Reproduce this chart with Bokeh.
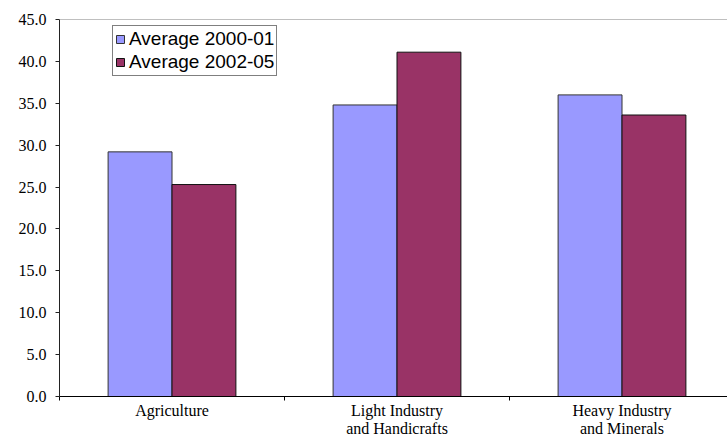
from bokeh.plotting import figure
from bokeh.models import (ColumnDataSource, Range1d, FixedTicker, NumeralTickFormatter,
                          Legend, LegendItem, Span)
from bokeh.embed import file_html
from bokeh.resources import INLINE

# Data
sectors = ["Agriculture", "Light Industry\nand Handicrafts", "Heavy Industry\nand Minerals"]
avg_2000_01 = [29.2, 34.8, 36.0]
avg_2002_05 = [25.3, 41.1, 33.6]
y_ticks = [0, 5, 10, 15, 20, 25, 30, 35, 40, 45]

centers = [i + 0.5 for i in range(len(sectors))]
bar_w = 0.284

src = ColumnDataSource(dict(
    x1=[c - bar_w / 2 for c in centers],
    x2=[c + bar_w / 2 for c in centers],
    a=avg_2000_01,
    b=avg_2002_05,
))

p = figure(width=727, height=440, output_backend="svg", toolbar_location=None,
           x_range=Range1d(0, 668 / 225), y_range=Range1d(0, 45),
           min_border_left=59, min_border_right=0, min_border_top=19, min_border_bottom=43)
p.outline_line_color = None
p.xgrid.visible = False
p.ygrid.visible = False
p.background_fill_color = "white"
p.border_fill_color = "white"

r1 = p.vbar(x="x1", top="a", width=bar_w, source=src,
            fill_color="#9999FF", line_color="#333333", line_width=1)
r2 = p.vbar(x="x2", top="b", width=bar_w, source=src,
            fill_color="#993366", line_color="#111111", line_width=1)

# top boundary line of the plot area
p.add_layout(Span(location=45, dimension="width", line_color="#808080", line_width=1))

# y axis
ya = p.yaxis[0]
ya.ticker = FixedTicker(ticks=y_ticks)
ya.formatter = NumeralTickFormatter(format="0.0")
ya.major_tick_out = 4
ya.major_tick_in = 0
ya.minor_tick_line_color = None
ya.axis_line_color = "#222222"
ya.major_tick_line_color = "#222222"
ya.major_label_text_font = "Liberation Serif"
ya.major_label_text_font_size = "16px"
ya.major_label_text_color = "black"
ya.major_label_standoff = 9

# x axis: labels at category centres, tick marks at category boundaries
xa = p.xaxis[0]
xa.ticker = FixedTicker(ticks=centers, minor_ticks=[0, 1, 2, 3])
xa.major_label_overrides = {c: s for c, s in zip(centers, sectors)}
xa.major_tick_line_color = None
xa.major_tick_out = 0
xa.major_tick_in = 0
xa.minor_tick_out = 4
xa.minor_tick_in = 0
xa.minor_tick_line_color = "black"
xa.axis_line_color = "black"
xa.major_label_text_font = "Liberation Serif"
xa.major_label_text_font_size = "16px"
xa.major_label_text_line_height = 1.1
xa.major_label_text_color = "black"
xa.major_label_standoff = 1

legend = Legend(items=[LegendItem(label="Average 2000-01", renderers=[r1]),
                       LegendItem(label="Average 2002-05", renderers=[r2])],
                location=(53, 320))
legend.label_text_font = "Liberation Sans"
legend.label_text_font_size = "19px"
legend.label_text_color = "black"
legend.border_line_color = "black"
legend.border_line_width = 1
legend.background_fill_color = "white"
legend.background_fill_alpha = 1
legend.padding = 2
legend.margin = 0
legend.spacing = 1
legend.glyph_width = 10
legend.glyph_height = 10
legend.label_height = 19
legend.label_standoff = 4
p.add_layout(legend)

open("out.html", "w").write(file_html(p, INLINE))
